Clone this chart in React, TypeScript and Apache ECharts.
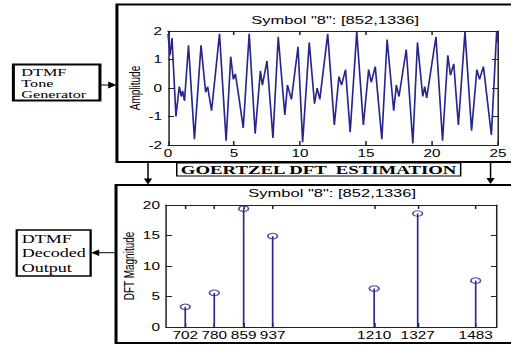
import React, { useEffect, useRef } from "react";
import * as echarts from "echarts";

const waveT = [0, 0.15, 0.3, 0.6, 0.85, 1.0, 1.1, 1.25, 1.55, 2.0, 2.5, 2.85, 3.0, 3.3, 3.9, 4.4, 4.75, 4.95, 5.1, 5.3, 5.7, 6.15, 6.6, 7.0, 7.15, 7.5, 7.95, 8.35, 8.85, 9.05, 9.2, 9.35, 9.85, 10.2, 10.7, 11.1, 11.3, 11.5, 12.1, 12.6, 12.95, 13.15, 13.45, 13.8, 14.3, 14.8, 15.2, 15.4, 15.7, 16.2, 16.6, 17.1, 17.3, 17.5, 18.05, 18.55, 18.9, 19.3, 19.45, 19.6, 20.3, 20.8, 21.2, 21.4, 21.65, 22.0, 22.5, 23.0, 23.4, 23.6, 23.9, 24.5, 24.9, 25.0];
const waveV = [1.9, 1.15, 1.75, -1.0, 0.05, -0.3, -0.1, -0.45, 1.5, -1.8, 1.5, -0.15, 0.05, -0.8, 1.9, -1.85, 1.1, 0.3, 0.5, -0.1, -1.4, 1.9, -1.6, 0.6, 0.1, 0.95, -1.75, 1.8, -0.95, 0.1, -0.15, -0.4, 1.45, -1.9, 1.6, -0.55, 0.0, -0.4, 1.9, -1.3, 0.4, 0.1, 0.65, -1.55, 1.97, -1.3, 0.65, 0.2, 0.75, -1.8, 1.7, -0.8, 0.1, -0.3, 1.35, -1.95, 1.6, -0.3, 0.05, -0.35, 1.8, -1.85, 1.15, 0.45, 0.85, -1.3, 1.97, -1.5, 0.65, 0.3, 0.75, -1.65, 1.97, 1.6];

// Bottom plot: Goertzel bin frequencies and DFT magnitudes
const freqs = [702, 780, 859, 937, 1210, 1327, 1483];
const mags = [3.3, 5.6, 19.4, 14.9, 6.3, 18.6, 7.6];

const plotTitle = 'Symbol "8": [852,1336]';
const genLines = ["DTMF", "Tone", "Generator"];
const decLines = ["DTMF", "Decoded", "Output"];
const midLabel = "GOERTZEL DFT  ESTIMATION";

const SX = 511 / 340;
const BLUE = "#26268e";
const SANS = "'Liberation Sans', Arial, sans-serif";
const SERIF = "'Liberation Serif', 'Times New Roman', serif";

export default function App() {
  const ref = useRef<HTMLDivElement>(null);
  useEffect(() => {
    if (!ref.current) return;
    const chart = echarts.init(ref.current, null, { renderer: "svg" });
    const axLine = { show: true, onZero: false, lineStyle: { color: "#222", width: 1 } };
    const tick = { show: true, inside: true, length: 4, lineStyle: { color: "#222" } };
    const lbl = { color: "#000", fontSize: 10.2, fontFamily: SANS, formatter: (v: number) => String(v) };
    const nameStyle = { color: "#000", fontSize: 10, fontFamily: SANS };
    const wave = waveT.map((t, i) => [t, waveV[i]]);
    const stems = freqs.map((f, i) => [f, mags[i]]);

    const arrowDown = (x: number, y1: number, y2: number) => [
      { type: "line", shape: { x1: x, y1, x2: x, y2: y2 - 5 }, style: { stroke: "#000", lineWidth: 1 } },
      { type: "polygon", shape: { points: [[x - 2.8, y2 - 6], [x + 2.8, y2 - 6], [x, y2]] }, style: { fill: "#000" } },
    ];
    const boxText = (s: string, x: number, y: number, size: number) => ({
      type: "text", x, y, style: { text: s, fontSize: size, fontFamily: SERIF, fill: "#000", textVerticalAlign: "middle" },
    });

    chart.setOption({
      animation: false,
      backgroundColor: "#fff",
      grid: [
        { left: 111.8, top: 31, width: 222.9, height: 114 },
        { left: 110.4, top: 205, width: 220.2, height: 122 },
      ],
      xAxis: [
        { type: "value", gridIndex: 0, min: 0, max: 25, interval: 5, position: "bottom", axisLine: axLine, axisTick: tick, axisLabel: { ...lbl, margin: 3 }, splitLine: { show: false } },
        { type: "value", gridIndex: 0, min: 0, max: 25, interval: 5, position: "top", axisLine: axLine, axisTick: tick, axisLabel: { show: false }, splitLine: { show: false } },
        { type: "value", gridIndex: 1, min: 650, max: 1540, position: "bottom", axisLine: axLine, axisTick: { ...tick, customValues: freqs }, axisLabel: { ...lbl, margin: 3, customValues: freqs }, splitLine: { show: false } },
        { type: "value", gridIndex: 1, min: 650, max: 1540, position: "top", axisLine: axLine, axisTick: { ...tick, customValues: freqs }, axisLabel: { show: false }, splitLine: { show: false } },
      ],
      yAxis: [
        { type: "value", gridIndex: 0, min: -2, max: 2, interval: 1, position: "left", axisLine: axLine, axisTick: tick, axisLabel: { ...lbl, margin: 4 }, splitLine: { show: false }, name: "Amplitude", nameLocation: "middle", nameGap: 17.5, nameMoveOverlap: false, nameTextStyle: nameStyle },
        { type: "value", gridIndex: 0, min: -2, max: 2, interval: 1, position: "right", axisLine: axLine, axisTick: tick, axisLabel: { show: false }, splitLine: { show: false } },
        { type: "value", gridIndex: 1, min: 0, max: 20, interval: 5, position: "left", axisLine: axLine, axisTick: tick, axisLabel: { ...lbl, margin: 4 }, splitLine: { show: false }, name: "DFT Magnitude", nameLocation: "middle", nameGap: 19.5, nameMoveOverlap: false, nameTextStyle: nameStyle },
        { type: "value", gridIndex: 1, min: 0, max: 20, interval: 5, position: "right", axisLine: axLine, axisTick: tick, axisLabel: { show: false }, splitLine: { show: false } },
      ],
      series: [
        { type: "line", xAxisIndex: 0, yAxisIndex: 0, data: wave, showSymbol: false, lineStyle: { color: BLUE, width: 1.1 } },
        {
          type: "custom", xAxisIndex: 2, yAxisIndex: 2, data: stems,
          renderItem: (_p: any, api: any) => {
            const a = api.coord([api.value(0), 0]);
            const b = api.coord([api.value(0), api.value(1)]);
            return { type: "line", shape: { x1: a[0], y1: a[1], x2: b[0], y2: b[1] }, style: { stroke: BLUE, lineWidth: 1.1 } };
          },
        },
        { type: "scatter", xAxisIndex: 2, yAxisIndex: 2, data: stems, symbol: "circle", symbolSize: [6.5, 5.5], itemStyle: { color: "rgba(0,0,0,0)", borderColor: BLUE, borderWidth: 1.1 } },
      ],
      graphic: [
        { type: "rect", shape: { x: 77.8, y: 4.5, width: 270, height: 157.5 }, style: { fill: "none", stroke: "#000", lineWidth: 2 } },
        { type: "rect", shape: { x: 77.2, y: 185, width: 270, height: 158 }, style: { fill: "none", stroke: "#000", lineWidth: 2 } },
        { type: "text", x: 223, y: 20, style: { text: plotTitle, fontSize: 11, fontFamily: SANS, fill: "#000", textAlign: "center", textVerticalAlign: "middle" } },
        { type: "text", x: 221, y: 193, style: { text: plotTitle, fontSize: 11, fontFamily: SANS, fill: "#000", textAlign: "center", textVerticalAlign: "middle" } },
        { type: "rect", shape: { x: 8.9, y: 64.5, width: 57.6, height: 36 }, style: { fill: "#fff", stroke: "#000", lineWidth: 2 } },
        boxText(genLines[0], 14.2, 72.3, 10.8),
        boxText(genLines[1], 14.2, 83.6, 10.8),
        boxText(genLines[2], 14.2, 94.9, 10.8),
        { type: "line", shape: { x1: 66.5, y1: 85, x2: 73, y2: 85 }, style: { stroke: "#000", lineWidth: 1 } },
        { type: "polygon", shape: { points: [[72, 81.5], [77.6, 85], [72, 88.5]] }, style: { fill: "#000" } },
        { type: "rect", shape: { x: 117.6, y: 163, width: 188.9, height: 13 }, style: { fill: "#fff", stroke: "#000", lineWidth: 1 } },
        { type: "text", x: 212, y: 170, style: { text: midLabel, fontSize: 12.5, fontWeight: "bold", fontFamily: SERIF, fill: "#000", textAlign: "center", textVerticalAlign: "middle" } },
        ...arrowDown(98.5, 162, 184.5),
        ...arrowDown(326.4, 162, 184),
        { type: "rect", shape: { x: 11.1, y: 230, width: 49.2, height: 46 }, style: { fill: "#fff", stroke: "#000", lineWidth: 1.5 } },
        boxText(decLines[0], 14.4, 239, 12),
        boxText(decLines[1], 14.4, 253, 12),
        boxText(decLines[2], 14.4, 267.5, 12),
        { type: "line", shape: { x1: 77.2, y1: 252.7, x2: 65, y2: 252.7 }, style: { stroke: "#000", lineWidth: 1 } },
        { type: "polygon", shape: { points: [[66, 249.5], [60.6, 252.7], [66, 256]] }, style: { fill: "#000" } },
      ],
    });
    return () => chart.dispose();
  }, []);
  return (
    <div
      ref={ref}
      style={{ position: "fixed", left: 0, top: 0, width: 340, height: 345, transform: `scaleX(${SX})`, transformOrigin: "0 0" }}
    />
  );
}
